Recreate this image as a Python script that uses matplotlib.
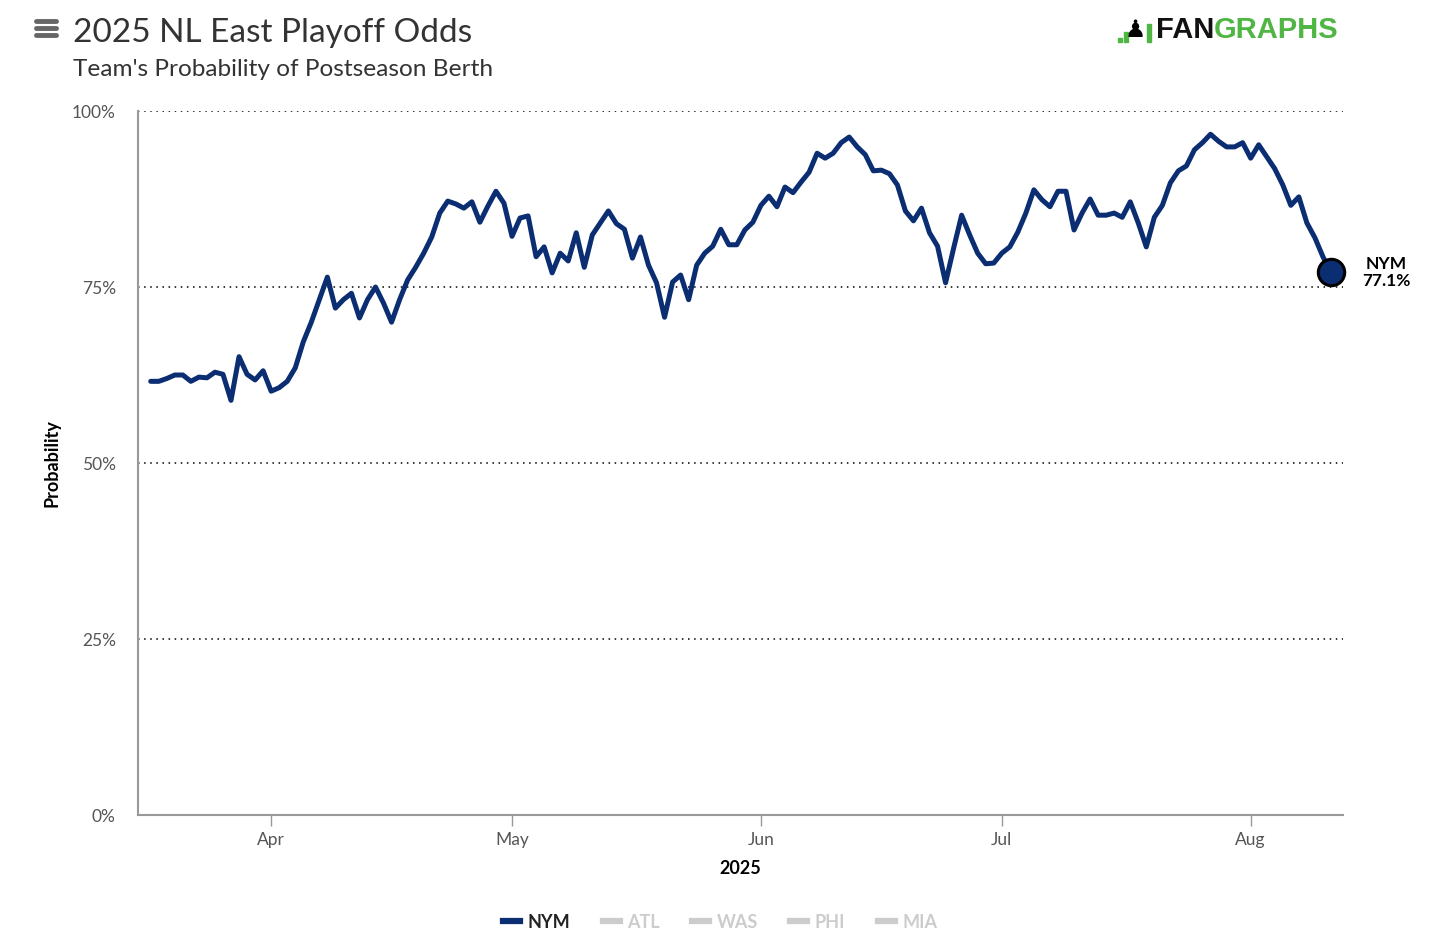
import numpy as np
import pandas as pd
import matplotlib
matplotlib.use("Agg")
import matplotlib.pyplot as plt
import matplotlib.dates as mdates
from matplotlib.lines import Line2D
from matplotlib.patches import FancyBboxPatch, Rectangle

plt.rcParams['font.family'] = ['Lato', 'DejaVu Sans']

# daily playoff odds for NYM (%), starting 2025-03-17
start_date = "2025-03-17"
mar_vals = [61.6, 61.6, 62.0, 62.5, 62.5, 61.6, 62.2, 62.1, 62.9, 62.6, 58.9, 65.1, 62.6, 61.8, 63.1]
apr_vals = [60.2, 60.7, 61.6, 63.5, 67.2, 70.0, 73.2, 76.4, 72.0, 73.2, 74.1, 70.6, 73.2, 75.0, 72.7,
            70.0, 73.2, 76.0, 77.8, 79.8, 82.1, 85.5, 87.2, 86.8, 86.2, 87.1, 84.2, 86.5, 88.6, 86.9]
may_vals = [82.2, 84.8, 85.1, 79.3, 80.7, 77.0, 79.8, 78.7, 82.7, 77.8, 82.4, 84.1, 85.8, 84.0, 83.2,
            79.1, 82.1, 78.1, 75.6, 70.7, 75.7, 76.7, 73.2, 78.1, 79.8, 80.8, 83.2, 81.0, 81.0, 83.1, 84.2]
jun_vals = [86.6, 87.9, 86.4, 89.2, 88.4, 89.9, 91.3, 94.0, 93.3, 94.0, 95.5, 96.3, 94.9, 93.8, 91.5,
            91.6, 91.1, 89.5, 85.8, 84.4, 86.2, 82.7, 80.8, 75.6, 80.5, 85.2, 82.4, 79.8, 78.3, 78.4]
jul_vals = [79.8, 80.7, 82.8, 85.5, 88.8, 87.4, 86.4, 88.6, 88.6, 83.1, 85.5, 87.5, 85.2, 85.2, 85.5,
            84.9, 87.1, 84.1, 80.7, 84.9, 86.6, 89.8, 91.5, 92.2, 94.5, 95.5, 96.7, 95.7, 94.9, 94.9, 95.5]
aug_vals = [93.3, 95.2, 93.5, 91.8, 89.5, 86.6, 87.8, 84.1, 82.0, 79.3, 77.1]

teams = ["NYM", "ATL", "WAS", "PHI", "MIA"]
month_ticks = ["2025-04-01", "2025-05-01", "2025-06-01", "2025-07-01", "2025-08-01"]
month_labels = ["Apr", "May", "Jun", "Jul", "Aug"]
y_ticks = [0, 25, 50, 75, 100]

nym = mar_vals + apr_vals + may_vals + jun_vals + jul_vals + aug_vals
dates = pd.date_range(start_date, periods=len(nym), freq="D")

W, H = 1456, 938
NAVY = "#0b2d72"

def fx(x):
    return x / W

def fy(y):
    return 1 - y / H

fig = plt.figure(figsize=(W / 100, H / 100), dpi=100)
ax = fig.add_axes([fx(138), fy(815), fx(1343) - fx(138), fy(111) - fy(815)])

ax.plot(dates, nym, color=NAVY, lw=3.6, solid_joinstyle="round", solid_capstyle="round", zorder=3)
ax.plot([dates[-1]], [nym[-1]], "o", ms=19, mfc=NAVY, mec="black", mew=2.2, zorder=4, clip_on=False)

ax.set_ylim(0, 100)
ax.set_xlim(pd.Timestamp("2025-03-15 10:00"), pd.Timestamp("2025-08-12 12:00"))

for v in y_ticks[1:]:
    ax.axhline(v, color="black", lw=1.1, ls=(0, (1, 3)), zorder=1)

ax.set_yticks(y_ticks)
ax.set_yticklabels([f"{v}%" for v in y_ticks])
ax.set_xticks(pd.to_datetime(month_ticks))
ax.set_xticklabels(month_labels)
ax.tick_params(axis="y", length=0, pad=16, labelsize=12.5, labelcolor="#555555")
ax.tick_params(axis="x", length=8, width=1, color="#999999", pad=4, labelsize=12.5, labelcolor="#555555")

for s in ["top", "right"]:
    ax.spines[s].set_visible(False)
for s in ["left", "bottom"]:
    ax.spines[s].set_color("#999999")
    ax.spines[s].set_linewidth(1.5)

ax.set_ylabel("Probability", fontsize=13, fontweight="bold", labelpad=8)
ax.set_xlabel("2025", fontsize=13, fontweight="bold", labelpad=9)

# end label
ax.annotate(f"{teams[0]}\n{nym[-1]:.1f}%", xy=(dates[-1], nym[-1]), xytext=(40, 0),
            textcoords="offset points", ha="center", va="center", fontsize=12.5,
            fontweight="bold", color="black", linespacing=1.05, annotation_clip=False)

# titles
fig.text(fx(73), fy(33), "2025 NL East Playoff Odds", fontsize=24, color="#333333",
         ha="left", va="center")
fig.text(fx(73), fy(69), "Team's Probability of Postseason Berth", fontsize=17.6, color="#333333",
         ha="left", va="center")

# hamburger icon
for yy in [21, 28, 35]:
    fig.add_artist(Line2D([fx(36), fx(56)], [fy(yy), fy(yy)], color="#666666", lw=3.5,
                          solid_capstyle="round"))

# FanGraphs logo
for i, (x0, hgt) in enumerate([(1118, 4), (1124, 10), (1147, 18)]):
    fig.add_artist(Rectangle((fx(x0), fy(42)), fx(4), fy(42 - hgt) - fy(42), color="#4fb543"))
fig.text(fx(1135), fy(30), "\u265f", fontsize=17, color="black", ha="center", va="center",
         family=["DejaVu Sans"])
fig.text(fx(1156), fy(30), "FAN", fontsize=21, fontweight="bold", color="#111111",
         ha="left", va="center", family=["Liberation Sans"])
fig.text(fx(1214), fy(30), "GRAPHS", fontsize=21, fontweight="bold", color="#4fb543",
         ha="left", va="center", family=["Liberation Sans"])

# legend
handles = [Line2D([], [], color=NAVY if t == "NYM" else "#cccccc", lw=4.5) for t in teams]
leg = fig.legend(handles, teams, loc="center", bbox_to_anchor=(fx(720), fy(922)), ncol=5,
                 frameon=False, handlelength=0.95, handletextpad=0.4, columnspacing=1.8,
                 prop={"size": 13, "weight": "bold"})
for t, txt in zip(teams, leg.get_texts()):
    txt.set_color("#222222" if t == "NYM" else "#cccccc")

fig.savefig("out.png", dpi=100, facecolor="white")
